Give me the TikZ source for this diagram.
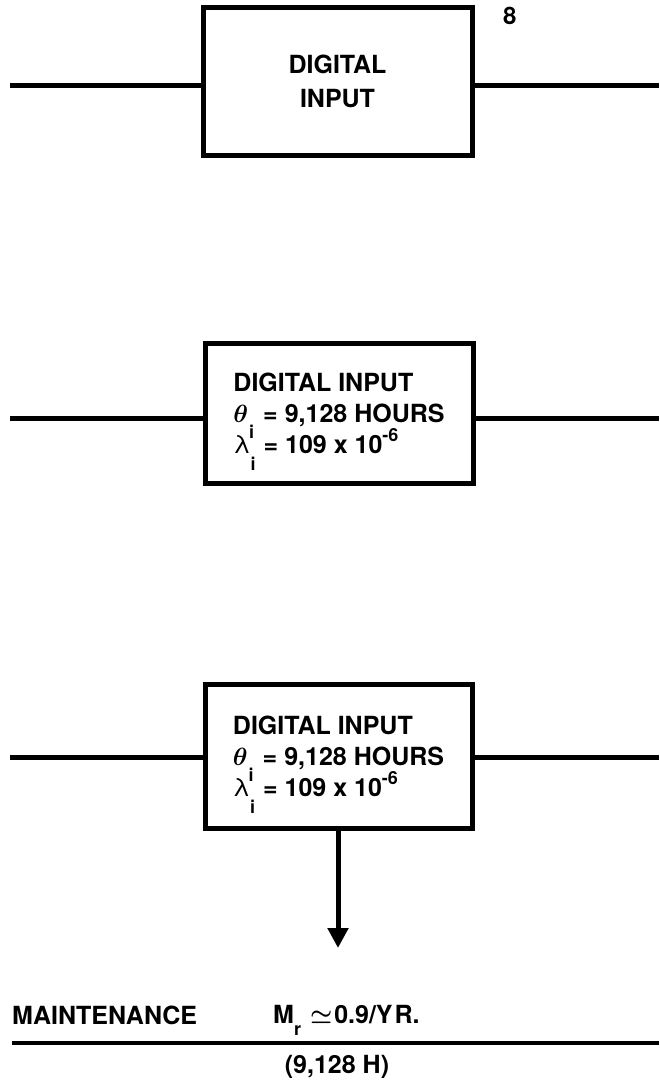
\documentclass[tikz,border=0pt]{standalone}
\usepackage{fontspec}
\setmainfont{TeX Gyre Heros}
\usetikzlibrary{arrows.meta}
% lowered / raised small index (subscript i, r and the exponent)
\newcommand\shiftidx[2]{\smash{\raisebox{#1}{\fontsize{18}{18}\selectfont #2}}}
\begin{document}
\begin{tikzpicture}[x=1pt,y=-1pt,
  box/.style={draw, rectangle, line width=5pt, inner sep=0pt,
              font=\bfseries\fontsize{25}{31}\selectfont},
  txt/.style={inner sep=0pt, font=\bfseries\fontsize{25}{30}\selectfont},
  wire/.style={line width=5pt},
  flow/.style={line width=5pt, -{Triangle[length=20pt,width=20pt]}},
  rule/.style={line width=4pt}]
\useasboundingbox[fill=white] (0,0) rectangle (659,1081);

% --- block 1 -------------------------------------------------------
\node[box, minimum width=269pt, minimum height=147pt, align=center,
      font=\bfseries\fontsize{25}{34}\selectfont] (b1) at (337.5,81.5)
  {DIGITAL\\INPUT};
\node[txt, anchor=base west, font=\bfseries\fontsize{24}{24}\selectfont] (n8) at (503,25) {8};
\coordinate (in1) at (10,85);
\coordinate (out1) at (659,85);
\draw[wire] (in1) -- (in1 -| b1.west);
\draw[wire] (out1 -| b1.east) -- (out1);

% --- block 2 -------------------------------------------------------
\node[box, minimum width=268pt, minimum height=140pt, align=left] (b2) at (339,413)
  {DIGITAL INPUT\\
   {\boldmath$\theta$}\kern1pt\shiftidx{-16pt}{i}\hspace{9pt}= 9,128 HOURS\\
   \textmd{λ}\shiftidx{-17pt}{i}\hspace{8pt}= 109 x 10\shiftidx{12pt}{-6}};
\coordinate (in2) at (10,418);
\coordinate (out2) at (659,418);
\draw[wire] (in2) -- (in2 -| b2.west);
\draw[wire] (out2 -| b2.east) -- (out2);

% --- block 3 -------------------------------------------------------
\node[box, minimum width=267pt, minimum height=144pt, align=left] (b3) at (338.5,756)
  {DIGITAL INPUT\\
   {\boldmath$\theta$}\kern1pt\shiftidx{-16pt}{i}\hspace{9pt}= 9,128 HOURS\\
   \textmd{λ}\shiftidx{-17pt}{i}\hspace{8pt}= 109 x 10\shiftidx{12pt}{-6}};
\coordinate (in3) at (10,757);
\coordinate (out3) at (659,757);
\draw[wire] (in3) -- (in3 -| b3.west);
\draw[wire] (out3 -| b3.east) -- (out3);

% maintenance output
\coordinate (tip) at (338,948);
\draw[flow] (b3.south -| tip) -- (tip);

% --- maintenance rate ----------------------------------------------
\node[txt, anchor=base west] (mt) at (12,1024) {MAINTENANCE};
\node[txt, anchor=base west] (mr) at (273,1023)
  {M\shiftidx{-12pt}{r}\hspace{9pt}{\boldmath$\simeq$}\hspace{2pt}0.9/Y\kern2pt R.};
\coordinate (rl) at (12,1043);
\coordinate (rr) at (659,1043);
\draw[rule] (rl) -- (rr);
\node[txt, anchor=base] (hrs) at (337,1073) {(9,128 H)};
\end{tikzpicture}
\end{document}
